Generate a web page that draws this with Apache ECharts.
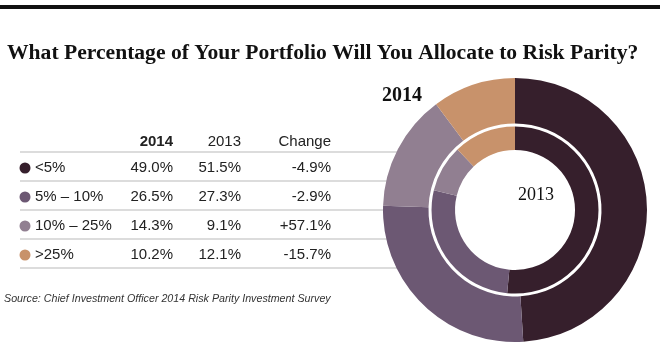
<html>
  <head>
    <meta charset="UTF-8" />
    <script src="https://cdn.jsdelivr.net/npm/echarts/dist/echarts.min.js"></script>
    <title>risk parity allocation</title>
    <style>
      html, body { margin: 0; padding: 0; background: #fff; }
      #main { width: 660px; height: 352px; }
    </style>
  </head>
  <body>
    <div id="main"></div>
    <script>
      // data
      const categories = ['<5%', '5% – 10%', '10% – 25%', '>25%'];
      const share2014 = [49.0, 26.5, 14.3, 10.2];
      const share2013 = [51.5, 27.3, 9.1, 12.1];
      const changeLabels = ['-4.9%', '-2.9%', '+57.1%', '-15.7%'];
      const columnHeaders = ['2014', '2013', 'Change'];
      const colors = ['#361f2c', '#6c5873', '#917f91', '#c8926b'];

      const titleText = 'What Percentage of Your Portfolio Will You Allocate to Risk Parity?';
      const sourceText = 'Source: Chief Investment Officer 2014 Risk Parity Investment Survey';

      const sans = '"Liberation Sans", Arial, sans-serif';
      const serif = '"Liberation Serif", "Times New Roman", serif';

      var chart = echarts.init(document.getElementById('main'));

      // table drawn as graphic elements
      var graphics = [];
      // top rule
      graphics.push({
        type: 'rect', z: 0,
        shape: { x: 0, y: 5, width: 660, height: 4 },
        style: { fill: '#111' }
      });
      graphics.push({
        type: 'text', z: 0, x: 7, y: 42,
        style: { text: titleText, font: 'bold 21.6px ' + serif, fill: '#111', align: 'left', verticalAlign: 'alphabetic' }
      });

      var colRight = [173, 241, 331];
      var headerY = 142;
      var rowY0 = 168, rowStep = 29;
      var lineY0 = 152;

      columnHeaders.forEach(function (h, i) {
        graphics.push({
          type: 'text', z: 0, x: colRight[i], y: headerY,
          style: { text: h, font: (i === 0 ? 'bold ' : '') + '15px ' + sans, fill: '#222', align: 'right', verticalAlign: 'middle' }
        });
      });

      for (var k = 0; k <= categories.length; k++) {
        graphics.push({
          type: 'line', z: 0,
          shape: { x1: 20, y1: lineY0 + k * rowStep, x2: 420, y2: lineY0 + k * rowStep },
          style: { stroke: '#d0d0d0', lineWidth: 1.5 }
        });
      }

      categories.forEach(function (c, i) {
        var y = rowY0 + i * rowStep;
        graphics.push({
          type: 'circle', z: 0,
          shape: { cx: 25, cy: y, r: 5.5 },
          style: { fill: colors[i] }
        });
        graphics.push({
          type: 'text', z: 0, x: 35, y: y,
          style: { text: c, font: '15px ' + sans, fill: '#222', align: 'left', verticalAlign: 'middle' }
        });
        var cells = [share2014[i].toFixed(1) + '%', share2013[i].toFixed(1) + '%', changeLabels[i]];
        cells.forEach(function (t, j) {
          graphics.push({
            type: 'text', z: 0, x: colRight[j], y: y,
            style: { text: t, font: '15px ' + sans, fill: '#222', align: 'right', verticalAlign: 'middle' }
          });
        });
      });

      graphics.push({
        type: 'text', z: 0, x: 4, y: 299,
        style: { text: sourceText, font: 'italic 10.7px ' + sans, fill: '#333', align: 'left', verticalAlign: 'middle' }
      });

      // ring labels
      graphics.push({
        type: 'text', z: 10, x: 382, y: 96,
        style: { text: '2014', font: 'bold 20px ' + serif, fill: '#111', align: 'left', verticalAlign: 'middle' }
      });
      graphics.push({
        type: 'text', z: 10, x: 536, y: 195,
        style: { text: '2013', font: '18px ' + serif, fill: '#111', align: 'center', verticalAlign: 'middle' }
      });

      function pieData(values) {
        return categories.map(function (c, i) {
          return { name: c, value: values[i], itemStyle: { color: colors[i] } };
        });
      }

      var option = {
        animation: false,
        graphic: graphics,
        series: [
          {
            name: '2014',
            type: 'pie',
            z: 5,
            center: [515, 210],
            radius: [86.5, 132],
            startAngle: 90,
            clockwise: true,
            label: { show: false },
            labelLine: { show: false },
            emphasis: { disabled: true },
            itemStyle: { borderWidth: 0 },
            data: pieData(share2014)
          },
          {
            name: '2013',
            type: 'pie',
            z: 5,
            center: [515, 210],
            radius: [60, 83.5],
            startAngle: 90,
            clockwise: true,
            label: { show: false },
            labelLine: { show: false },
            emphasis: { disabled: true },
            itemStyle: { borderWidth: 0 },
            data: pieData(share2013)
          }
        ]
      };
      chart.setOption(option);
    </script>
  </body>
</html>
